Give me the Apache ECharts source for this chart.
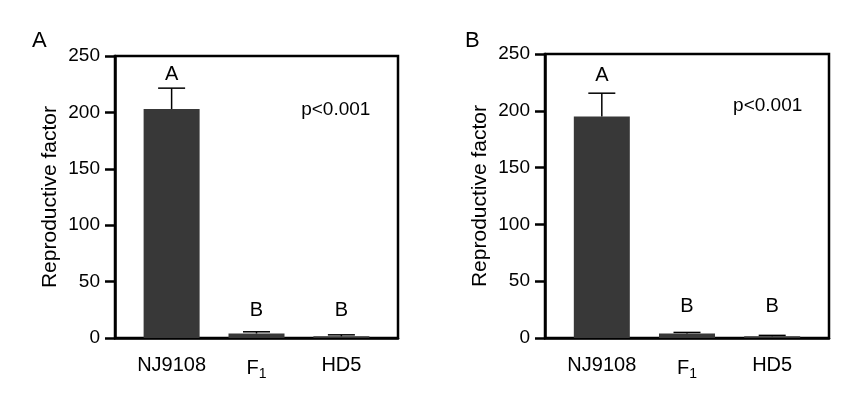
<!DOCTYPE html>
<html>
<head>
<meta charset="utf-8">
<script src="https://cdn.jsdelivr.net/npm/echarts@6/dist/echarts.min.js"></script>
<style>html,body{margin:0;padding:0;background:#fff}#c{width:846px;height:408px}</style>
</head>
<body>
<div id="c"></div>
<script>
// ---- data ----
const categories = ['NJ9108', 'F1', 'HD5'];
const yTicks = [0, 50, 100, 150, 200, 250];
const meanA = [203, 4, 1.5];
const sdA = [18.5, 1.5, 1.3];
const lettersA = ['A', 'B', 'B'];
const letterYA = [234, 24.6, 24.8];
const meanB = [195, 4, 1.5];
const sdB = [20.5, 0.9, 0.8];
const lettersB = ['A', 'B', 'B'];
const letterYB = [231, 28, 28];
const pText = 'p<0.001';
const panelNames = ['A', 'B'];

const FONT = "'Liberation Sans', Arial, sans-serif";
const chart = echarts.init(document.getElementById('c'));

const grids = [
  {left: 115, right: 448, top: 56, bottom: 70},
  {left: 545, right: 17, top: 54, bottom: 70}
];

function xAxisFor(i) {
  return {
    type: 'value', gridIndex: i, min: -0.667, max: 2.667,
    splitLine: {show: false},
    axisLine: {show: true, onZero: false, lineStyle: {color: '#000', width: 2.5}},
    axisTick: {show: false},
    axisLabel: {
      customValues: [0, 1, 2], margin: 17, color: '#000', fontFamily: FONT, fontSize: 20,
      formatter: v => {
        const n = categories[Math.round(v)];
        return n === 'F1' ? 'F{sub|1}' : n;
      },
      rich: {sub: {fontSize: 14, fontFamily: FONT, color: '#000', verticalAlign: 'bottom', padding: [12, 0, 0, 0]}}
    }
  };
}
function yAxisFor(i) {
  return {
    type: 'value', gridIndex: i, min: 0, max: 250, interval: 50,
    name: 'Reproductive factor', nameLocation: 'middle', nameGap: 54,
    nameTextStyle: {fontFamily: FONT, fontSize: 21, color: '#000'},
    splitLine: {show: false},
    axisLine: {show: true, onZero: false, lineStyle: {color: '#000', width: 2.5}},
    axisTick: {show: true, length: 10, lineStyle: {color: '#000', width: 2.5}},
    axisLabel: {color: '#000', fontFamily: FONT, fontSize: 19, margin: 15,
      customValues: yTicks}
  };
}

function barSeries(i, mean) {
  return {
    type: 'bar', xAxisIndex: i, yAxisIndex: i, barWidth: 56,
    itemStyle: {color: '#383838'},
    data: mean.map((v, k) => [k, v]), z: 2
  };
}
function errSeries(i, mean, sd) {
  return {
    type: 'custom', xAxisIndex: i, yAxisIndex: i, z: 3,
    data: mean.map((v, k) => [k, v, v + sd[k]]),
    renderItem: (params, api) => {
      const x = api.value(0);
      const p0 = api.coord([x, api.value(1)]);
      const p1 = api.coord([x, api.value(2)]);
      const hw = 13.5;
      return {type: 'group', children: [
        {type: 'line', shape: {x1: p0[0], y1: p0[1], x2: p1[0], y2: p1[1]}, style: {stroke: '#000', lineWidth: 1.5}},
        {type: 'line', shape: {x1: p1[0] - hw, y1: p1[1], x2: p1[0] + hw, y2: p1[1]}, style: {stroke: '#000', lineWidth: 1.5}}
      ]};
    }
  };
}
function textSeries(i, items) {
  return {
    type: 'custom', xAxisIndex: i, yAxisIndex: i, z: 4,
    data: items,
    renderItem: (params, api) => {
      const p = api.coord([api.value(0), api.value(1)]);
      return {type: 'text', x: p[0], y: p[1], style: {
        text: items[params.dataIndex][2], textAlign: 'center', textVerticalAlign: 'middle',
        fontFamily: FONT, fontSize: items[params.dataIndex][3], fill: '#000'}};
    }
  };
}

const itemsA = lettersA.map((l, k) => [k, letterYA[k], l, 20]).concat([[1.934, 202.7, pText, 19]]);
const itemsB = lettersB.map((l, k) => [k, letterYB[k], l, 20]).concat([[1.947, 204.3, pText, 19]]);

chart.setOption({
  animation: false,
  title: [
    {text: panelNames[0], left: 27, top: 25, textStyle: {fontFamily: FONT, fontSize: 22, fontWeight: 'normal', color: '#000'}},
    {text: panelNames[1], left: 460, top: 25, textStyle: {fontFamily: FONT, fontSize: 22, fontWeight: 'normal', color: '#000'}}
  ],
  grid: grids.map(g => Object.assign({show: true, borderColor: '#000', borderWidth: 2.5, backgroundColor: 'transparent'}, g)),
  xAxis: [xAxisFor(0), xAxisFor(1)],
  yAxis: [yAxisFor(0), yAxisFor(1)],
  series: [
    barSeries(0, meanA), errSeries(0, meanA, sdA), textSeries(0, itemsA),
    barSeries(1, meanB), errSeries(1, meanB, sdB), textSeries(1, itemsB)
  ]
});
</script>
</body>
</html>
